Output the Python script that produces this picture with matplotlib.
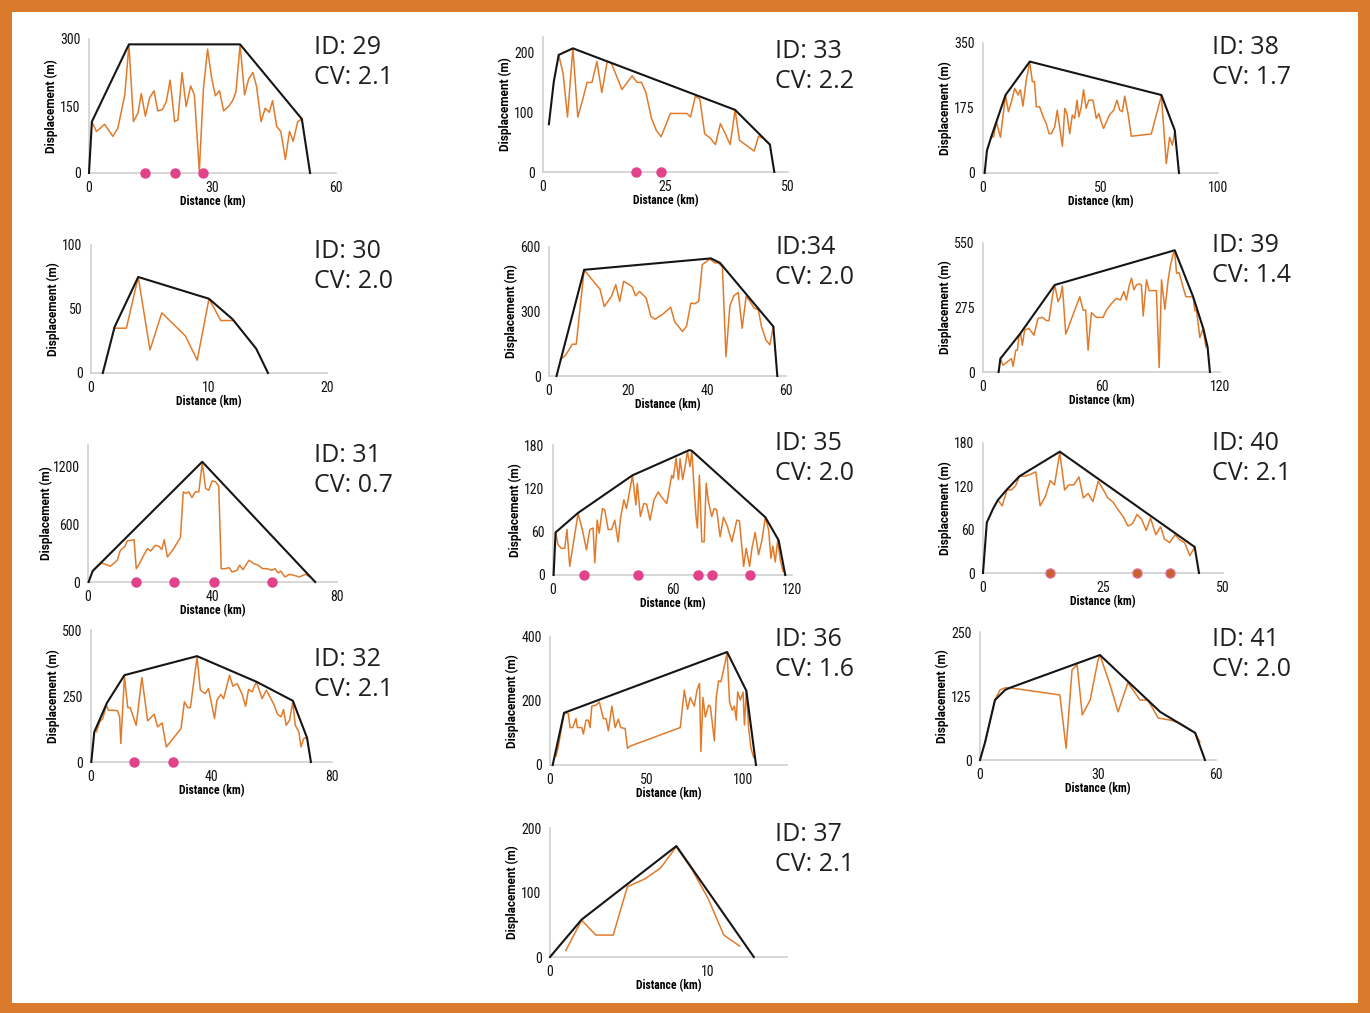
import matplotlib
matplotlib.use("Agg")
import matplotlib.pyplot as plt
from matplotlib.patches import Rectangle

# ---- data ----
# ID 29
d29_x = [0.7, 1.8, 3.8, 5.8, 7.0, 8.7, 9.7, 10.8, 11.9, 12.7, 13.7, 14.7, 15.8, 16.7, 17.8, 18.8, 19.7, 20.8, 21.6, 22.6,
         23.6, 24.7, 25.6, 26.8, 27.8, 28.8, 29.8, 30.7, 31.7, 32.7, 33.9, 34.9, 35.7, 36.7, 37.8, 38.8, 39.8, 40.7,
         41.8, 42.8, 43.8, 44.6, 45.6, 46.6, 47.7, 48.7, 49.6, 50.7, 51.7]
d29_y = [115, 93, 109, 82, 100, 175, 287, 115, 134, 178, 127, 168, 184, 139, 142, 160, 208, 115, 119, 225,
         149, 195, 175, 4, 190, 277, 212, 173, 184, 139, 149, 162, 182, 287, 175, 211, 225, 194,
         115, 145, 136, 162, 104, 93, 30, 93, 71, 115, 121]
e29_x = [0, 0.7, 9.7, 36.7, 51.7, 53.7]
e29_y = [0, 115, 288, 288, 121, 0]
s29 = [13.7, 20.8, 27.6]

# ID 33
d33_x = [3.2, 4.1, 5.0, 6.1, 7.1, 8.0, 9.0, 10.0, 11.0, 12.0, 13.1, 13.9, 14.8, 16.1, 18.2, 19.2, 20.1, 21.0, 22.1,
         23.1, 24.1, 26.0, 28.2, 29.4, 30.1, 31.1, 32.0, 33.0, 34.1, 35.2, 36.2, 37.2, 38.2, 39.2, 40.1, 43.1, 44.0,
         45.0, 46.3]
d33_y = [196, 165, 92, 207, 92, 118, 150, 150, 185, 133, 185, 183, 165, 138, 161, 150, 150, 133, 91,
         70, 59, 98, 98, 98, 92, 127, 122, 64, 57, 46, 81, 64, 46, 104, 53, 35, 60,
         56, 46]
e33_x = [1.2, 2.2, 3.2, 6.1, 39.2, 46.3, 47.2]
e33_y = [80, 151, 196, 207, 104, 46, 0]
s33 = [19.0, 24.1]

# ID 38
d38_x = [3.5, 4.5, 5.7, 7.4, 8.5, 9.6, 10.8, 12.1, 13.5, 14.9, 15.9, 17.0, 18.4, 19.9, 21.0, 21.9, 22.7, 24.1, 25.5,
         26.9, 28.1, 29.1, 30.5, 31.6, 32.6, 33.8, 34.8, 35.7, 36.9, 38.0, 39.0, 40.0, 40.8, 41.8, 42.8, 43.9, 45.0,
         46.8, 48.2, 49.3, 50.3, 51.3, 53.8, 55.6, 57.0, 58.2, 59.3, 60.3, 61.7, 63.1, 71.6, 75.9, 78.0, 79.4, 80.6,
         81.6]
d38_y = [97, 97, 138, 96, 152, 210, 165, 192, 228, 210, 224, 180, 250, 298, 246, 246, 178, 178, 153,
         133, 106, 106, 124, 169, 124, 72, 174, 160, 106, 156, 147, 196, 151, 178, 224, 174, 196,
         196, 147, 160, 138, 120, 156, 169, 196, 169, 165, 207, 160, 99, 105, 208, 25, 96, 75,
         111]
e38_x = [0.7, 1.7, 3.5, 9.6, 19.9, 75.9, 81.6, 83.4]
e38_y = [0, 61, 97, 210, 300, 210, 115, 0]
s38 = []

# ID 30
d30_x = [2, 3, 4, 5, 6, 8, 9, 10, 11, 12]
d30_y = [35, 35, 75, 18, 47, 29, 10, 58, 41, 41]
e30_x = [1, 2, 4, 10, 12, 14, 15]
e30_y = [0, 36, 75, 58, 42, 19, 0]
s30 = []

# ID 34
d34_x = [2.9, 4.0, 4.8, 5.9, 6.9, 8.9, 10.9, 12.9, 14.0, 15.8, 16.9, 17.9, 18.9, 20.0, 21.1, 21.9, 22.9, 23.8, 24.6,
         25.8, 26.8, 28.9, 30.8, 31.8, 33.8, 34.8, 35.9, 36.9, 37.9, 38.8, 40.7, 42.0, 42.9, 43.9, 44.8, 45.8, 46.8,
         47.9, 48.9, 49.9, 50.9, 51.9, 53.0, 53.8, 54.9, 55.9, 56.8]
d34_y = [78, 93, 114, 148, 148, 494, 448, 404, 323, 370, 425, 347, 440, 429, 414, 373, 393, 378, 362,
         277, 264, 289, 320, 253, 207, 230, 339, 336, 347, 518, 544, 526, 526, 507, 90, 327, 373,
         389, 222, 370, 347, 316, 308, 230, 168, 145, 230]
e34_x = [1.9, 8.9, 41.0, 43.3, 56.8, 57.8]
e34_y = [0, 494, 547, 526, 230, 0]
s34 = []

# ID 39
d39_x = [8.8, 10.1, 14.4, 15.2, 16.6, 17.4, 18.2, 19.1, 19.9, 21.1, 23.3, 25.8, 27.9, 30.1, 32.1, 33.4, 35.1, 36.3,
         38.0, 39.2, 40.2, 41.9, 49.0, 50.7, 52.0, 53.2, 54.9, 57.4, 60.8, 62.5, 64.5, 65.9, 67.6, 69.6, 71.3, 72.6,
         74.0, 75.2, 76.4, 77.7, 79.1, 80.2, 81.1, 82.8, 84.1, 85.8, 87.8, 89.2, 90.4, 92.1, 93.8, 95.0, 96.4, 97.1,
         98.0, 99.3, 101.0, 102.7, 104.7, 106.4, 107.3, 108.1, 109.8, 111.5, 112.8]
d39_y = [57, 29, 57, 24, 93, 93, 153, 161, 114, 179, 186, 157, 229, 233, 219, 219, 321, 371,
         300, 321, 367, 161, 321, 264, 264, 93, 253, 233, 233, 264, 286, 300, 314, 307, 343, 307,
         367, 400, 350, 371, 376, 371, 239, 393, 347, 347, 347, 19, 393, 267, 396, 457, 507, 510,
         421, 424, 371, 321, 321, 321, 261, 264, 147, 186, 107]
e39_x = [7.9, 8.8, 18.6, 36.3, 97.1, 106.4, 111.5, 113.7, 114.9]
e39_y = [0, 57, 161, 371, 519, 321, 186, 107, 0]
s39 = []

# ID 31
d31_x = [1.5, 2.9, 4.5, 7.2, 9.4, 10.4, 11.9, 12.6, 14.0, 14.8, 15.5, 16.4, 17.7, 19.1, 20.1, 21.7, 22.8, 23.7, 24.5,
         25.5, 27.2, 28.5, 29.7, 30.6, 31.5, 32.4, 33.4, 34.5, 35.6, 36.7, 37.8, 38.8, 39.9, 41.0, 42.0, 42.8, 44.2,
         45.3, 46.3, 47.9, 48.7, 49.8, 51.7, 53.3, 54.7, 56.1, 57.6, 59.0, 60.1, 61.1, 61.9, 63.3, 64.7, 66.2, 67.9,
         69.8, 71.4]
d31_y = [114, 163, 197, 163, 225, 329, 370, 426, 433, 439, 138, 183, 266, 346, 322, 381, 370, 336, 439,
         260, 329, 398, 460, 934, 917, 934, 875, 934, 934, 1235, 969, 952, 1048, 1038, 993, 138, 138,
         149, 104, 121, 173, 128, 225, 190, 173, 138, 138, 121, 138, 93, 114, 52, 80, 69, 52,
         80, 52]
e31_x = [0.2, 1.5, 36.7, 73.0]
e31_y = [0, 114, 1246, 0]
s31 = [15.5, 27.5, 40.6, 59.0]

# ID 35
d35_x = [1.3, 2.5, 4.2, 5.9, 7.0, 8.4, 10.1, 12.6, 14.8, 16.8, 18.5, 20.1, 21.0, 22.2, 23.2, 24.8, 26.0, 27.7, 29.4,
         31.0, 32.7, 33.9, 35.6, 36.9, 39.9, 41.6, 42.3, 43.9, 45.6, 47.0, 48.7, 50.7, 52.8, 54.5, 57.1, 59.6, 60.4,
         61.8, 63.0, 63.8, 65.1, 66.3, 67.5, 68.8, 69.7, 70.8, 71.8, 72.5, 73.5, 74.7, 75.9, 76.9, 78.0, 79.7, 80.9,
         82.2, 83.9, 85.6, 87.6, 89.8, 92.3, 93.6, 95.7, 97.0, 98.7, 99.9, 101.5, 103.2, 104.9, 106.6, 108.3, 109.4,
         110.4, 111.6, 112.8, 114.1, 115.5]
d35_y = [59, 42, 37, 37, 63, 12, 42, 85, 62, 35, 63, 65, 17, 76, 58, 92, 90, 63, 63,
         76, 46, 79, 104, 92, 138, 97, 127, 81, 99, 98, 76, 104, 115, 108, 99, 138, 134,
         162, 132, 161, 132, 150, 171, 150, 172, 122, 81, 65, 138, 46, 46, 127, 102, 81, 92,
         90, 53, 80, 67, 46, 76, 75, 12, 37, 12, 37, 59, 28, 48, 80, 62, 23,
         40, 18, 48, 21, 5]
e35_x = [0.3, 1.3, 12.6, 39.9, 68.5, 69.7, 106.6, 113.3, 116.6]
e35_y = [0, 59, 86, 138, 173, 172, 80, 48, 0]
s35 = [15.6, 42.8, 73.0, 79.7, 98.7]

# ID 40
d40_x = [3.1, 4.0, 5.0, 5.9, 6.8, 7.6, 8.7, 9.7, 11.0, 11.9, 13.0, 14.0, 14.9, 16.0, 17.0, 17.9, 18.9, 20.0, 20.9,
         21.9, 22.9, 24.0, 25.0, 26.0, 27.1, 28.1, 29.2, 30.2, 31.1, 32.1, 33.0, 34.0, 34.9, 36.0, 37.0, 37.8, 38.9,
         40.0, 41.0, 42.0, 43.1, 44.1]
d40_y = [101, 93, 115, 115, 121, 134, 134, 136, 140, 93, 106, 128, 122, 167, 115, 122, 122, 133, 104,
         110, 99, 127, 116, 104, 98, 88, 78, 65, 68, 81, 75, 59, 76, 53, 64, 47, 42,
         53, 46, 42, 24, 36]
e40_x = [0, 0.8, 2.1, 3.1, 4.9, 7.6, 16.0, 44.1, 45.0]
e40_y = [0, 70, 89, 101, 115, 134, 168, 36, 0]
s40 = [14.0, 32.1, 39.0]

# ID 32
d32_x = [1.8, 2.9, 3.9, 5.1, 5.8, 7.5, 8.8, 9.5, 9.9, 11.1, 12.2, 13.0, 15.0, 16.9, 18.8, 21.0, 22.1, 23.6, 25.0,
         29.9, 31.0, 32.1, 33.0, 35.2, 36.3, 37.9, 39.0, 41.0, 41.8, 43.1, 44.0, 46.0, 47.1, 48.5, 50.2, 51.3, 52.3,
         53.5, 54.9, 56.8, 58.2, 59.5, 60.6, 61.9, 63.1, 63.9, 64.8, 65.9, 67.0, 67.8, 69.0, 69.7, 70.6, 71.7]
d32_y = [114, 152, 165, 215, 196, 196, 194, 171, 70, 325, 206, 206, 139, 320, 156, 181, 133, 148, 57,
         127, 228, 206, 206, 399, 272, 259, 278, 165, 234, 256, 240, 329, 287, 297, 256, 211, 275,
         266, 304, 240, 272, 244, 221, 181, 171, 199, 139, 158, 228, 139, 114, 57, 89, 92]
e32_x = [0.1, 1.1, 5.3, 11.1, 35.2, 54.9, 67.0, 71.7, 73.0]
e32_y = [0, 114, 224, 329, 401, 304, 232, 92, 0]
s32 = [14.2, 27.1]

# ID 36
d36_x = [3.1, 4.3, 7.3, 9.5, 10.4, 11.8, 13.5, 14.2, 16.5, 17.3, 18.7, 19.9, 20.8, 21.7, 23.9, 25.6, 27.7, 29.1, 30.3,
         32.1, 33.8, 35.5, 36.7, 39.0, 40.2, 41.6, 67.6, 69.7, 71.4, 72.8, 74.9, 76.3, 77.6, 78.3, 79.4, 80.6, 82.3,
         83.2, 85.3, 86.3, 87.5, 88.7, 90.1, 91.9, 93.2, 94.5, 95.7, 96.7, 97.4, 98.8, 100.2, 100.9, 101.9, 103.1,
         104.3, 105.7]
d36_y = [28, 57, 163, 161, 117, 117, 145, 117, 117, 97, 140, 140, 117, 184, 187, 197, 145, 145, 107,
         184, 117, 143, 117, 114, 52, 59, 117, 234, 174, 211, 184, 234, 255, 42, 211, 150, 187,
         184, 76, 213, 263, 260, 298, 351, 197, 171, 184, 140, 228, 203, 228, 125, 232, 114,
         52, 24]
e36_x = [1.4, 7.3, 91.9, 101.9, 106.9]
e36_y = [0, 163, 353, 232, 0]
s36 = []

# ID 41
d41_x = [1.3, 3.8, 5.1, 6.4, 7.6, 20.3, 21.9, 23.4, 24.7, 26.0, 28.0, 30.0, 30.5, 33.1, 35.1, 37.6, 40.7, 42.7, 45.3,
         48.3, 50.8, 54.7, 55.9]
d41_y = [35, 117, 137, 141, 141, 127, 23, 176, 186, 88, 117, 195, 205, 146, 94, 151, 117, 117, 82,
         78, 72, 53, 35]
e41_x = [0, 1.3, 3.8, 6.4, 7.6, 30.5, 45.8, 54.7, 57.2]
e41_y = [0, 35, 117, 137, 141, 205, 94, 53, 0]
s41 = []

# ID 37
d37_x = [1, 2, 2.9, 4, 4.9, 6, 7, 8, 9, 10, 11, 12]
d37_y = [10, 57, 34, 34, 109, 121, 138, 171, 135, 91, 34, 17]
e37_x = [0, 2, 8, 12.9]
e37_y = [0, 58, 172, 0]
s37 = []

# id label, cv, data, axis limits, ticks
panels = [
    ("ID: 29", "2.1", d29_x, d29_y, e29_x, e29_y, s29, 60, 300, [0, 30, 60], [0, 150, 300]),
    ("ID: 33", "2.2", d33_x, d33_y, e33_x, e33_y, s33, 50, 226, [0, 25, 50], [0, 100, 200]),
    ("ID: 38", "1.7", d38_x, d38_y, e38_x, e38_y, s38, 100, 350, [0, 50, 100], [0, 175, 350]),
    ("ID: 30", "2.0", d30_x, d30_y, e30_x, e30_y, s30, 20, 100, [0, 10, 20], [0, 50, 100]),
    ("ID:34", "2.0", d34_x, d34_y, e34_x, e34_y, s34, 60, 600, [0, 20, 40, 60], [0, 300, 600]),
    ("ID: 39", "1.4", d39_x, d39_y, e39_x, e39_y, s39, 120, 550, [0, 60, 120], [0, 275, 550]),
    ("ID: 31", "0.7", d31_x, d31_y, e31_x, e31_y, s31, 80, 1420, [0, 40, 80], [0, 600, 1200]),
    ("ID: 35", "2.0", d35_x, d35_y, e35_x, e35_y, s35, 120, 180, [0, 60, 120], [0, 60, 120, 180]),
    ("ID: 40", "2.1", d40_x, d40_y, e40_x, e40_y, s40, 50, 180, [0, 25, 50], [0, 60, 120, 180]),
    ("ID: 32", "2.1", d32_x, d32_y, e32_x, e32_y, s32, 80, 500, [0, 40, 80], [0, 250, 500]),
    ("ID: 36", "1.6", d36_x, d36_y, e36_x, e36_y, s36, 123, 400, [0, 50, 100], [0, 200, 400]),
    ("ID: 41", "2.0", d41_x, d41_y, e41_x, e41_y, s41, 60, 250, [0, 30, 60], [0, 125, 250]),
    ("ID: 37", "2.1", d37_x, d37_y, e37_x, e37_y, s37, 15, 200, [0, 10], [0, 100, 200]),
]

# axes boxes in pixels: left, right, top, bottom ; ID text x, y ; y-label offset from the axis
boxes = [
    (89, 336, 39, 173, 314, 47, 38),
    (543, 788, 37, 172, 775, 52, 38),
    (983, 1218, 43, 173, 1212, 47, 38),
    (91, 327, 245, 373, 314, 251, 38),
    (549, 786, 247, 376, 775, 247, 38),
    (983, 1220, 243, 372, 1212, 245, 38),
    (88, 337, 445, 582, 314, 455, 42),
    (553, 792, 445, 575, 775, 443, 38),
    (983, 1223, 443, 573, 1212, 443, 38),
    (91, 332, 630, 762, 314, 659, 38),
    (550, 787, 637, 765, 775, 639, 38),
    (980, 1216, 632, 760, 1212, 640, 38),
    (550, 787, 828, 957, 775, 834, 38),
]

W, H = 1370, 1013
BORDER = '#D97A2C'
ORANGE = '#E07B2C'
PINK = '#E2428A'
GRID = '#cfcfcf'
NARROW = ['Roboto Condensed', 'Liberation Sans Narrow', 'Roboto', 'DejaVu Sans']
WIDE = ['Roboto', 'DejaVu Sans']

plt.rcParams['font.family'] = NARROW

fig = plt.figure(figsize=(W / 100, H / 100), dpi=100, facecolor=BORDER)
fig.patches.append(Rectangle((12 / W, 10 / H), (W - 24) / W, (H - 22) / H, transform=fig.transFigure,
                             facecolor='white', edgecolor='none', zorder=-10))

for (label, cv, dx, dy, ex, ey, sites, xmax, ymax, xt, yt), (L, R, T, B, tx, ty, yoff) in zip(panels, boxes):
    ax = fig.add_axes([L / W, 1 - B / H, (R - L) / W, (B - T) / H])
    ax.set_facecolor('none')
    ax.plot(dx, dy, color=ORANGE, lw=1.1, clip_on=False, zorder=3)
    ax.plot(ex, ey, color='#151515', lw=1.5, clip_on=False, zorder=4)
    if sites:
        if label == "ID: 40":
            ax.plot(sites, [0] * len(sites), 'o', ms=6.5, mfc='#C9602C', mec='#E06A8E', mew=1,
                    clip_on=False, zorder=5)
        else:
            ax.plot(sites, [0] * len(sites), 'o', ms=6.5, color=PINK, clip_on=False, zorder=5)
    ax.set_xlim(0, xmax)
    ax.set_ylim(0, ymax)
    ax.set_xticks(xt)
    ax.set_yticks(yt)
    for s in ['top', 'right']:
        ax.spines[s].set_visible(False)
    for s in ['left', 'bottom']:
        ax.spines[s].set_color(GRID)
        ax.spines[s].set_linewidth(1.2)
    ax.tick_params(length=0, labelsize=10, pad=6, colors='#111111')

    wpx, hpx = R - L, B - T
    ax.set_xlabel("Distance (km)", fontsize=8.5, fontweight='bold')
    ax.set_ylabel("Displacement (m)", fontsize=8.5, fontweight='bold', family=WIDE)
    ax.xaxis.set_label_coords(0.5, -29 / hpx)
    ax.xaxis.label.set_va('center')
    ax.yaxis.set_label_coords(-yoff / wpx, 0.5)
    ax.yaxis.label.set_va('center')

    fig.text(tx / W, 1 - ty / H, label, fontsize=18, family='Open Sans', color='#231f20', va='center')
    fig.text(tx / W, 1 - (ty + 30) / H, "CV: " + cv, fontsize=18, family='Open Sans', color='#231f20',
             va='center')

fig.savefig("out.png", dpi=100, facecolor=fig.get_facecolor())
